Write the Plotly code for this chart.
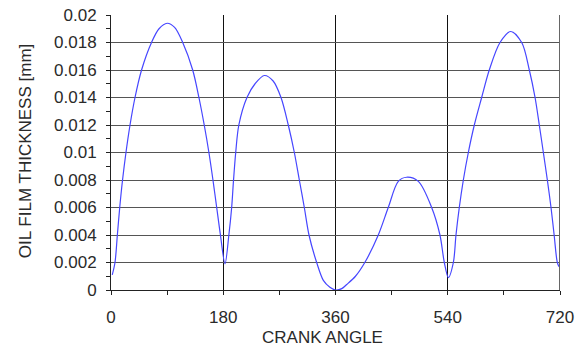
import plotly.graph_objects as go

crank_angle = [2, 6.4, 10.2, 14.0, 18.5, 24, 30.5, 38.5, 49, 65, 77, 90, 102, 115, 131, 141, 149.5, 157, 163.5, 169.5, 175.5, 182.8,
               189, 193.5, 196.5, 200, 205, 218, 231, 246, 260, 272.6, 284.3, 294, 302, 310, 317.5, 329.8, 340.5, 351, 360,
               370, 378, 392, 407, 428.6, 444.6, 460.7, 474, 492.8, 514.2, 527.5, 534.5, 541,
               549, 553.2, 558.5, 565, 573, 582.6, 594.4, 606.6, 623.8, 641, 658.6, 670.8, 680, 686.8, 693.3, 699.7, 705.6, 710.6, 715.7, 718.5]
film_thickness = [0.0011, 0.0020, 0.0040, 0.0060, 0.0080, 0.0100, 0.0120, 0.0140, 0.0160, 0.0180, 0.0190, 0.0194, 0.0191, 0.0180, 0.0160, 0.0140, 0.0120, 0.0100, 0.0080, 0.0060, 0.0040, 0.0019,
                  0.0040, 0.0060, 0.0080, 0.0100, 0.0120, 0.0140, 0.0150, 0.0156, 0.0152, 0.0140, 0.0120, 0.0100, 0.0080, 0.0060, 0.0040, 0.0020, 0.0007, 0.0002, 0.0000,
                  0.0001, 0.0004, 0.0010, 0.0020, 0.0040, 0.0060, 0.0079, 0.0082, 0.0079, 0.0060, 0.0040, 0.0020, 0.0009,
                  0.0020, 0.0040, 0.0060, 0.0080, 0.0100, 0.0120, 0.0140, 0.0160, 0.0180, 0.0188, 0.0180, 0.0160, 0.0140, 0.0120, 0.0100, 0.0080, 0.0060, 0.0040, 0.0020, 0.0017]

x_ticks = [0, 180, 360, 540, 720]
y_ticks = [0, 0.002, 0.004, 0.006, 0.008, 0.01, 0.012, 0.014, 0.016, 0.018, 0.02]
y_labels = ["0", "0.002", "0.004", "0.006", "0.008", "0.01", "0.012", "0.014", "0.016", "0.018", "0.02"]
x_title = "CRANK ANGLE"
y_title = "OIL FILM THICKNESS [mm]"

fig = go.Figure()
fig.add_trace(go.Scatter(x=crank_angle, y=film_thickness, mode="lines",
                         line=dict(color="rgb(70,70,255)", width=1.2, shape="spline", smoothing=0.9),
                         showlegend=False, hoverinfo="skip"))

font = dict(family="Liberation Sans, Arial, sans-serif", size=17, color="#2a2a2a")
fig.update_layout(
    width=585, height=349,
    margin=dict(l=111, r=25, t=15, b=59, autoexpand=False),
    paper_bgcolor="white", plot_bgcolor="white",
    font=font,
    xaxis=dict(range=[0, 720], tickvals=x_ticks, ticktext=[str(v) for v in x_ticks],
               showgrid=True, gridcolor="#111", gridwidth=1,
               showline=True, linecolor="#222", linewidth=1, mirror=False,
               ticks="outside", ticklen=4, tickcolor="#222", ticklabelstandoff=8,
               ticklabeloverflow="allow",
               minor=dict(dtick=90, tick0=0, ticks="outside", ticklen=4, tickcolor="#222", showgrid=False),
               zeroline=False, automargin=False),
    yaxis=dict(range=[0, 0.02], tickvals=y_ticks, ticktext=y_labels,
               showgrid=True, gridcolor="#555", gridwidth=1.3,
               showline=True, linecolor="#222", linewidth=1,
               ticks="outside", ticklen=4, tickcolor="#222", ticklabelstandoff=6,
               ticklabeloverflow="allow",
               minor=dict(dtick=0.001, tick0=0, ticks="outside", ticklen=4, tickcolor="#222", showgrid=False),
               zeroline=False, automargin=False),
    annotations=[
        dict(text=x_title, xref="paper", yref="paper", x=0.47, y=-0.171, xanchor="center", yanchor="middle",
             showarrow=False, font=dict(size=17, color="#2a2a2a")),
        dict(text=y_title, xref="paper", yref="paper", x=-0.1915, y=0.505, xanchor="center", yanchor="middle",
             textangle=-90, showarrow=False, font=dict(size=17, color="#2a2a2a")),
    ],
)
fig.add_shape(type="line", xref="x", yref="paper", x0=720, x1=720, y0=0, y1=1,
              line=dict(color="#666", width=2))
fig.write_html("out.html", config={"displayModeBar": False},
               post_script="document.body.style.margin='0';")
